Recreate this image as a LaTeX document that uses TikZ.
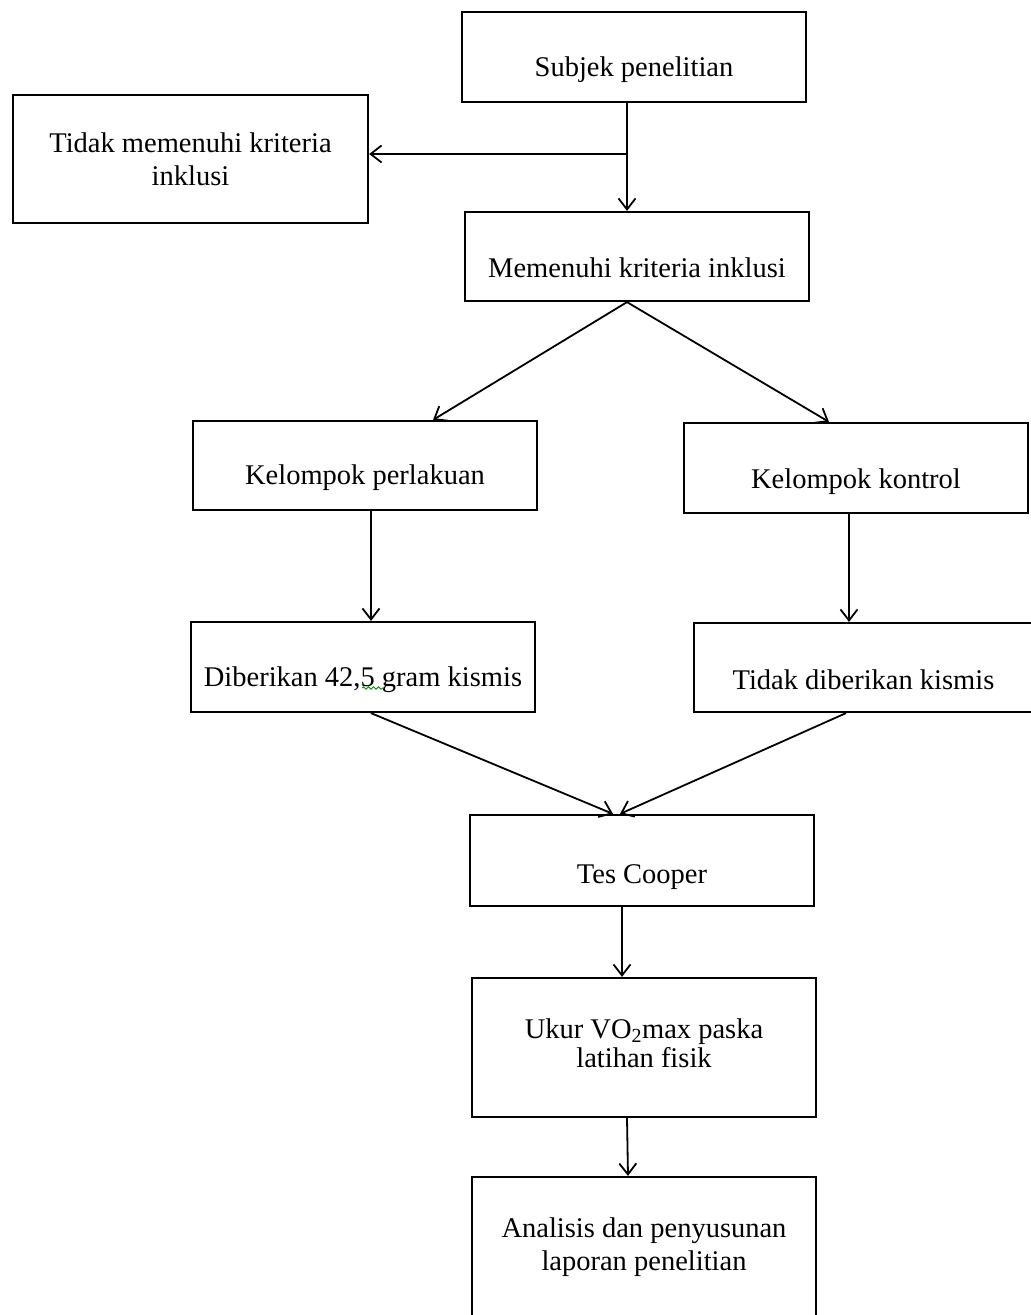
\documentclass[tikz,border=0pt]{standalone}
\usepackage{fontspec}
\setmainfont{Liberation Serif}
\usetikzlibrary{arrows.meta,calc,decorations.pathmorphing}
\begin{document}
\begin{tikzpicture}[x=1pt,y=-1pt,
  box/.style={draw=black,line width=2.2pt,rectangle,inner sep=0pt},
  lbl/.style={anchor=base,inner sep=0pt,align=center,
    font=\fontsize{28.5}{33}\selectfont},
  arr/.style={line width=1.8pt,-{Straight Barb[length=11pt,width=17pt,line width=1.8pt]}},
  ln/.style={line width=1.8pt}]
\fill[white] (0,0) rectangle (1031,1315);
\useasboundingbox (0,0) rectangle (1031,1315);
% nodes
\node[box,minimum width=344pt,minimum height=90pt,
  label={[lbl,yshift=-13pt]center:Subjek penelitian}] (s) at (634,57) {};
\node[box,minimum width=355pt,minimum height=128pt,
  label={[lbl,yshift=0pt]center:{Tidak memenuhi kriteria\\inklusi}}] (t) at (190.5,159) {};
\node[box,minimum width=344pt,minimum height=89pt,
  label={[lbl,yshift=-11.5pt]center:Memenuhi kriteria inklusi}] (m) at (637,256.5) {};
\node[box,minimum width=344pt,minimum height=89pt,
  label={[lbl,yshift=-12.5pt]center:Kelompok perlakuan}] (kp) at (365,465.5) {};
\node[box,minimum width=344pt,minimum height=90pt,
  label={[lbl,yshift=-14pt]center:Kelompok kontrol}] (kk) at (856,468) {};
\node[box,minimum width=344pt,minimum height=90pt,
  label={[lbl,yshift=-13pt]center:{Diberikan 42,5 gram kismis}}] (d) at (363,667) {};
\node[box,minimum width=339pt,minimum height=89pt,
  label={[lbl,yshift=-12.5pt]center:Tidak diberikan kismis}] (td) at (863.5,667.5) {};
\node[box,minimum width=344pt,minimum height=91pt,
  label={[lbl,yshift=-16.5pt]center:Tes Cooper}] (tc) at (642,860.5) {};
\node[box,minimum width=344pt,minimum height=139pt,
  label={[lbl,yshift=4.5pt,font=\fontsize{28.5}{29}\selectfont]center:{Ukur VO\textsubscript{2}max paska\\latihan fisik}}] (u) at (644,1047.5) {};
\node[box,minimum width=344pt,minimum height=140pt,
  label={[lbl,yshift=0pt]center:{Analisis dan penyusunan\\laporan penelitian}}] (a) at (644,1247) {};
% spell-check squiggle
\coordinate (sq1) at (362,688);
\coordinate (sq2) at (384,688);
\draw[green!55!black,line width=0.9pt,decorate,decoration={snake,amplitude=1.2pt,segment length=5pt}] (sq1) -- (sq2);
% connectors
\coordinate (j) at (627,154);
\draw[ln] (s.south -| j) -- (j);
\draw[arr] (j) -- (m.north -| j);
\draw[arr] (j) -- (t.east |- j);
\draw[arr] (m.south -| j) -- ([xshift=68pt]kp.north);
\draw[arr] (m.south -| j) -- ([xshift=-27pt]kk.north);
\draw[arr] ([xshift=6pt]kp.south) -- ([xshift=6pt]kp.south |- d.north);
\draw[arr] ([xshift=-7pt]kk.south) -- ([xshift=-7pt]kk.south |- td.north);
\draw[arr] ([xshift=8pt]d.south) -- ([xshift=-29pt]tc.north);
\draw[arr] ([xshift=-17.5pt]td.south) -- ([xshift=-22pt]tc.north);
\draw[arr] ([xshift=-20pt]tc.south) -- ([xshift=-20pt]tc.south |- u.north);
\draw[arr] ([xshift=-17pt]u.south) -- ([xshift=-16pt]a.north);
\end{tikzpicture}
\end{document}
